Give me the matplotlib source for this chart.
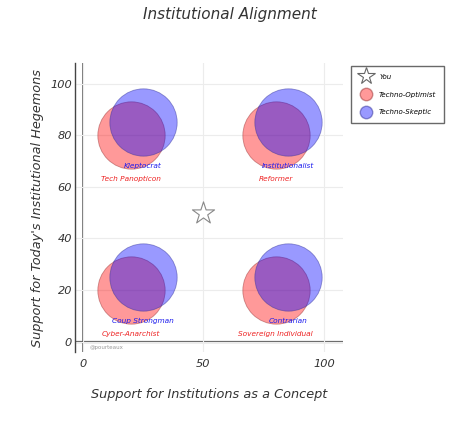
import matplotlib.pyplot as plt
from matplotlib.lines import Line2D

# quadrant circles: optimist (red) and skeptic (blue) centres
opt_x = [20, 80, 20, 80]
opt_y = [80, 80, 20, 20]
opt_labels = ['Tech Panopticon', 'Reformer', 'Cyber-Anarchist', 'Sovereign Individual']

skep_x = [25, 85, 25, 85]
skep_y = [85, 85, 25, 25]
skep_labels = ['Kleptocrat', 'Institutionalist', 'Coup Strongman', 'Contrarian']

you_x = [50]
you_y = [50]

ticks_x = [0, 50, 100]
ticks_y = [0, 20, 40, 60, 80, 100]

plt.rcParams['font.family'] = ['DejaVu Sans']

fig = plt.figure(figsize=(4.74, 4.25), dpi=100)
ax = fig.add_axes([0.158, 0.172, 0.566, 0.68])

ax.set_xlim(-3.3, 108)
ax.set_ylim(-4, 108)

for s in ax.spines.values():
    s.set_visible(False)
ax.spines['left'].set_visible(True)
ax.spines['left'].set_color('#444444')
ax.spines['left'].set_linewidth(1.0)

ax.set_xticks(ticks_x)
ax.set_yticks(ticks_y)
ax.grid(True, color='#ececec', linewidth=0.8)
ax.tick_params(length=0, labelsize=8.2, colors='#333333', pad=2)
ax.tick_params(axis='x', pad=5)
for lab in ax.get_xticklabels() + ax.get_yticklabels():
    lab.set_fontstyle('italic')

ax.axhline(0, color='#666666', linewidth=1.6, zorder=1)
ax.axvline(0, color='#555555', linewidth=1.1, zorder=1)

size = 2350
ax.scatter(opt_x, opt_y, s=size, color=(1, 0, 0, 0.4), edgecolor=(0.6, 0.2, 0.2, 0.5),
           linewidth=0.6, zorder=3)
ax.scatter(skep_x, skep_y, s=size, color=(0, 0, 1, 0.4), edgecolor=(0.2, 0.2, 0.6, 0.5),
           linewidth=0.6, zorder=4)
ax.scatter(you_x, you_y, s=280, marker='*', facecolor='white', edgecolor='#888888',
           linewidth=0.8, zorder=5)

for x, y, t in zip(skep_x, skep_y, skep_labels):
    ax.text(x, y - 17, t, color='#1a1aee', fontsize=5.3, style='italic',
            ha='center', va='center', zorder=6)
for x, y, t in zip(opt_x, opt_y, opt_labels):
    ax.text(x, y - 17, t, color='#ee2222', fontsize=5.3, style='italic',
            ha='center', va='center', zorder=6)

ax.text(3, -2.2, '@pourteaux', color='#999999', fontsize=4, ha='left', va='center')

fig.text(0.485, 0.967, 'Institutional Alignment', fontsize=11, style='italic',
         color='#333333', ha='center', va='center')
fig.text(0.442, 0.071, 'Support for Institutions as a Concept', fontsize=9.3,
         style='italic', color='#333333', ha='center', va='center')
fig.text(0.08, 0.51, "Support for Today's Institutional Hegemons", fontsize=9.3,
         style='italic', color='#333333', ha='center', va='center', rotation=90)

handles = [
    Line2D([], [], linestyle='none', marker='*', markersize=13,
           markerfacecolor='white', markeredgecolor='#666666', markeredgewidth=0.8),
    Line2D([], [], linestyle='none', marker='o', markersize=9,
           markerfacecolor=(1, 0, 0, 0.4), markeredgecolor=(0.6, 0.2, 0.2, 0.5)),
    Line2D([], [], linestyle='none', marker='o', markersize=9,
           markerfacecolor=(0, 0, 1, 0.4), markeredgecolor=(0.2, 0.2, 0.6, 0.5)),
]
leg = fig.legend(handles, ['You', 'Techno-Optimist', 'Techno-Skeptic'],
                 loc='upper left', bbox_to_anchor=(0.734, 0.853),
                 prop={'size': 5, 'style': 'italic'}, frameon=True, fancybox=False,
                 edgecolor='#444444', borderpad=1.1, labelspacing=1.7,
                 handletextpad=0.9)
leg.get_frame().set_linewidth(1.0)

fig.savefig('out.png', dpi=100)
